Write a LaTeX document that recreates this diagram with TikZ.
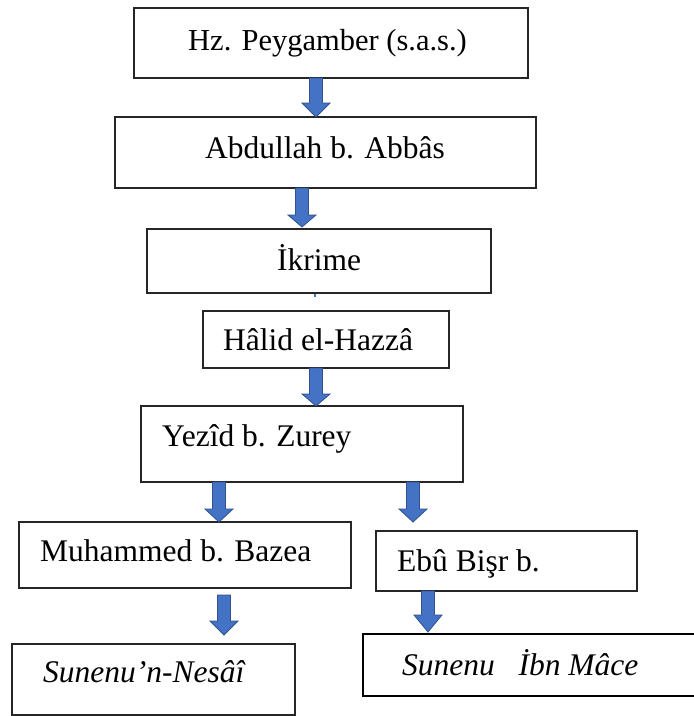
\documentclass[tikz,border=0pt]{standalone}
\usepackage{fontspec}
\setmainfont{Liberation Serif}
\usetikzlibrary{calc}
\definecolor{arrfill}{HTML}{4472C4}
\definecolor{arrdraw}{HTML}{2F528F}
\tikzset{
  box/.style={draw=black!85, line width=1.3pt, rectangle, inner sep=0pt, fill=white},
  txt/.style={inner sep=0pt, anchor=base west, font=\fontsize{31.5pt}{36pt}\selectfont},
  barrow/.style={fill=arrfill, draw=arrdraw, line width=0.8pt, line join=miter},
}
\newcommand\blockarr[3][13]{%
  \draw[barrow] let \p1=(#2), \p2=(#3) in
    (\x1-6.5pt,\y1) -- (\x1+6.5pt,\y1) -- (\x1+6.5pt,\y2+#1pt) -- (\x1+14pt,\y2+#1pt)
    -- (\x2,\y2) -- (\x1-14pt,\y2+#1pt) -- (\x1-6.5pt,\y2+#1pt) -- cycle;}
\begin{document}
\begin{tikzpicture}[x=1pt,y=-1pt]
\useasboundingbox (0,0) rectangle (694,716);
\fill[white] (0,0) rectangle (694,716);
% boxes
\node[box, minimum width=394pt, minimum height=70pt] (b1) at (331,43) {};
\node[box, minimum width=421pt, minimum height=71pt] (b2) at (325.5,152.5) {};
\node[box, minimum width=344pt, minimum height=64pt] (b3) at (319,261) {};
\node[box, minimum width=246pt, minimum height=57pt] (b4) at (326,339.5) {};
\node[box, minimum width=322pt, minimum height=76pt] (b5) at (302,444) {};
\node[box, minimum width=332pt, minimum height=66pt] (b6) at (185,555) {};
\node[box, minimum width=261pt, minimum height=60pt] (b7) at (506.5,561) {};
\node[box, minimum width=283pt, minimum height=71pt] (b8) at (153.5,679.5) {};
\node[box, line width=2pt, draw=black, minimum width=337pt, minimum height=62pt] (b9) at (531.5,665) {};
% texts
\node[txt, font=\fontsize{30.5pt}{36pt}\selectfont] (t1) at (188,50) {Hz. Peygamber (s.a.s.)};
\node[txt] (t2) at (205,158) {Abdullah b. Abbâs};
\node[txt] (t3) at (277,270) {İkrime};
\node[txt] (t4) at (223,350) {Hâlid el-Hazzâ};
\node[txt] (t5) at (162,446) {Yezîd b. Zurey};
\node[txt] (t6) at (40,561) {Muhammed b. Bazea};
\node[txt] (t7) at (397,571) {Ebû Bişr b.};
\node[txt] (t8) at (43,682) {\itshape Sunenu’n-Nesâî};
\node[txt] (t9) at (402,675) {\itshape Sunenu~~~İbn Mâce};
% arrow end points
\coordinate (a1s) at (316,78);  \coordinate (a1e) at (316,117);
\coordinate (a2s) at (302,188); \coordinate (a2e) at (302,227);
\coordinate (a4s) at (316,368); \coordinate (a4e) at (316,406);
\coordinate (a5s) at (219,482); \coordinate (a5e) at (219,522);
\coordinate (a6s) at (413,482); \coordinate (a6e) at (413,522);
\coordinate (a7s) at (224,595); \coordinate (a7e) at (224,635);
\coordinate (a8s) at (428,591); \coordinate (a8e) at (428,632);
\blockarr[14]{a1s}{a1e}
\blockarr[12]{a2s}{a2e}
\blockarr[12]{a4s}{a4e}
\blockarr{a5s}{a5e}
\blockarr{a6s}{a6e}
\blockarr[14]{a7s}{a7e}
\blockarr[17]{a8s}{a8e}
% small stray mark below Ikrime
\coordinate (a3s) at (315,293.5);
\fill[arrfill] ($(a3s)+(-1,0)$) rectangle ($(a3s)+(1,3)$);
\end{tikzpicture}
\end{document}
